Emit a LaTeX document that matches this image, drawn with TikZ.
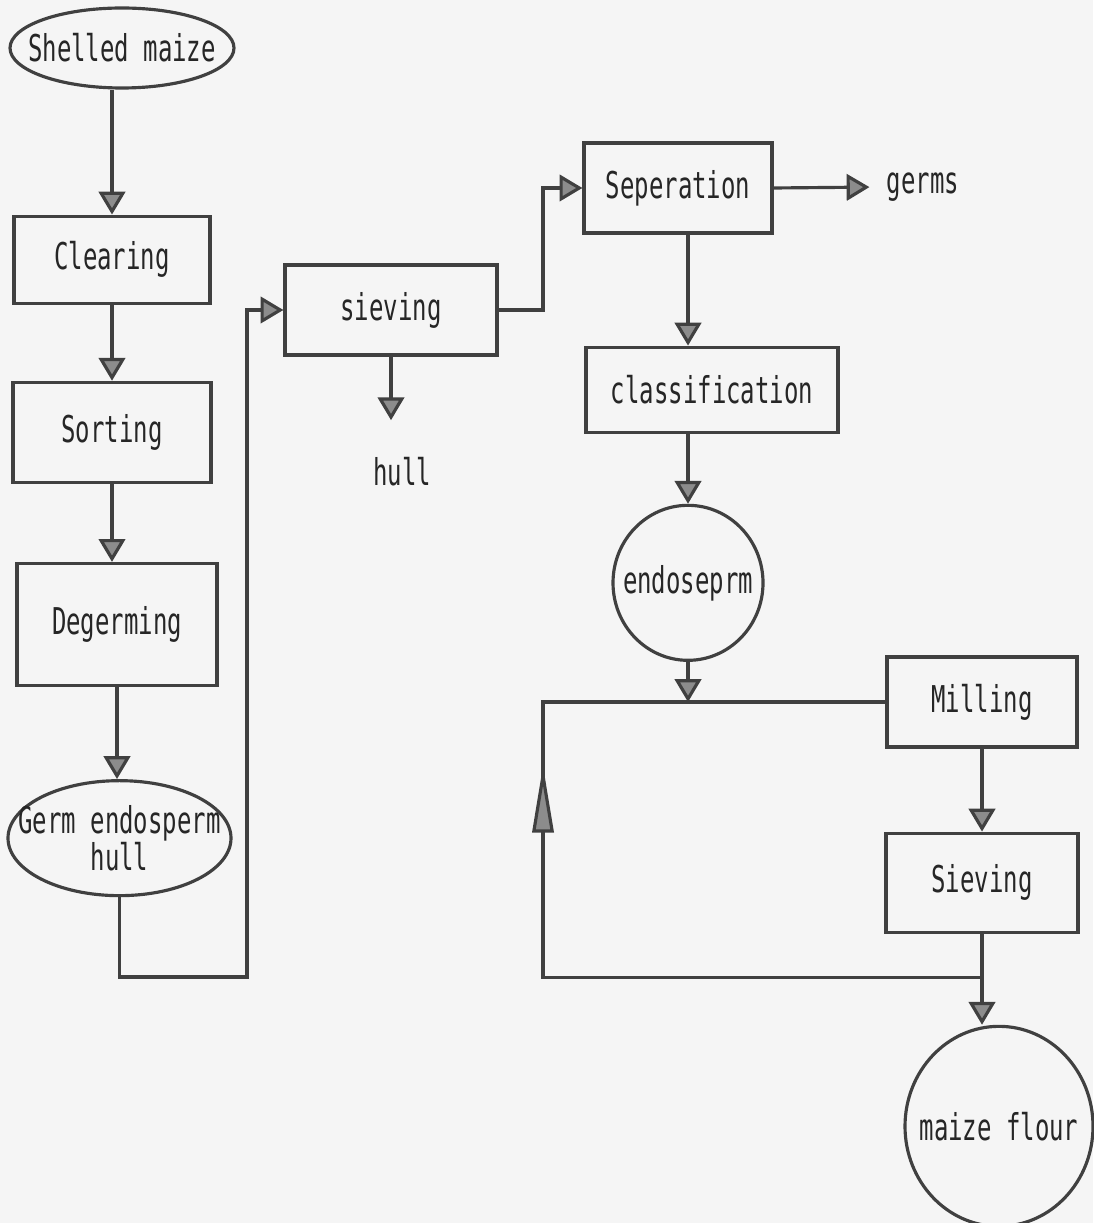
\documentclass[tikz,border=0pt]{standalone}
\usepackage{fontspec}
\newfontfamily\typer[FakeStretch=0.65]{DejaVu Sans Mono}
\usepackage{xcolor}
\colorlet{colorLine}{black!75}
\colorlet{colorTip}{black!45}
\colorlet{colorText}{black!85}
\colorlet{colorPaper}{black!4}
\usepackage{tikz}
\usetikzlibrary{arrows.meta, shapes.geometric, positioning, decorations.markings}
\newcommand{\snug}[1]{\makebox[1cm]{#1}}
\tikzset{word/.style={text=colorText, font=\typer\fontsize{21pt}{16pt}\selectfont}}
\tikzset{proc/.style={word, draw=colorLine, rectangle}}
\tikzset{term/.style={proc, ellipse, inner sep=0pt, align=center}}
\tikzset{link/.style={draw=colorLine, ->}}

\begin{document}
\begin{tikzpicture}[>={Triangle[width=15pt,length=13pt,fill=colorTip]}, line width=1.8pt, node distance=1.6cm]
\fill[colorPaper] (0,0) rectangle (21.86,-24.46);
\useasboundingbox (0,0) rectangle (21.86,-24.46);
% left column
\node[term, minimum width=4.48cm, minimum height=1.6cm] (p1) at (2.44,-0.96) {\snug{Shelled maize}};
\node[proc, minimum width=3.92cm, minimum height=1.74cm, below=2.5cm of p1, xshift=-0.2cm] (p2) {Clearing};
\node[proc, minimum width=3.96cm, minimum height=2cm, below=1.52cm of p2] (p3) {Sorting};
\node[proc, minimum width=4cm, minimum height=2.44cm, below=1.56cm of p3, xshift=0.1cm] (p4) {Degerming};
\node[term, minimum width=4.46cm, minimum height=2.3cm, below=1.84cm of p4, xshift=0.05cm] (p5) {\snug{Germ endosperm}\\\snug{hull}};
% middle
\node[proc, minimum width=4.24cm, minimum height=1.8cm] (p6) at (7.82,-6.2) {sieving};
\node[word] (p7) at (8.04,-9.44) {hull};
% right column
\node[proc, minimum width=3.76cm, minimum height=1.8cm] (p8) at (13.56,-3.76) {Seperation};
\node[word] (p9) at (18.46,-3.74) {germs};
\node[proc, minimum width=5.04cm, minimum height=1.7cm, below=2.22cm of p8, xshift=0.68cm] (p10) {classification};
\node[term, minimum width=3cm, minimum height=3.1cm, below=1.4cm of p10, xshift=-0.48cm] (p11) {\snug{endoseprm}};
\node[proc, minimum width=3.8cm, minimum height=1.8cm] (p12) at (19.64,-14.04) {Milling};
\node[proc, minimum width=3.84cm, minimum height=1.98cm, below=1.66cm of p12] (p13) {Sieving};
\node[term, minimum width=3.76cm, minimum height=4cm, below=1.82cm of p13, xshift=0.34cm] (p14) {\snug{maize flour}};
% bends
\coordinate (c1) at (4.94,-19.54);
\coordinate (c2) at (10.86,0);
\coordinate (c3) at (10.86,-14.04);
\coordinate[below=0.88cm of p13] (c4);
% arrows
\draw[link] (p1.south -| p2.north) -- (p2.north);
\draw[link] (p2.south) -- (p2.south |- p3.north);
\draw[link] (p3.south) -- (p3.south |- p4.north);
\draw[link] (p4.south) -- (p4.south |- p5.north);
\draw[link] (p5.south) |- (c1) |- (p6.west);
\draw[link, shorten >=0.6cm] (p6.south) -- (p6.south |- p7.north);
\draw[link] (p6.east) -- (p6.east -| c2) |- (p8.west);
\draw[link, shorten >=0.2cm] (p8.east) -- (p9.west);
\draw[link] (p8.south -| p11) -- (p10.north -| p11);
\draw[link] (p10.south -| p11) -- (p11.north);
\draw[link] (p11.south) -- (p11.south |- c3);
\draw[link] (p12.south) -- (p13.north);
\draw[link] (p13.south) -- (p13.south |- p14.north);
\draw[draw=colorLine, postaction={decorate}, decoration={markings, mark=at position 13.02cm with {\arrow{Triangle[width=12pt,length=38pt,fill=colorTip]}}}] (c4) -- (c4 -| c3) -- (c3) -- (p12.west);
\end{tikzpicture}
\end{document}
